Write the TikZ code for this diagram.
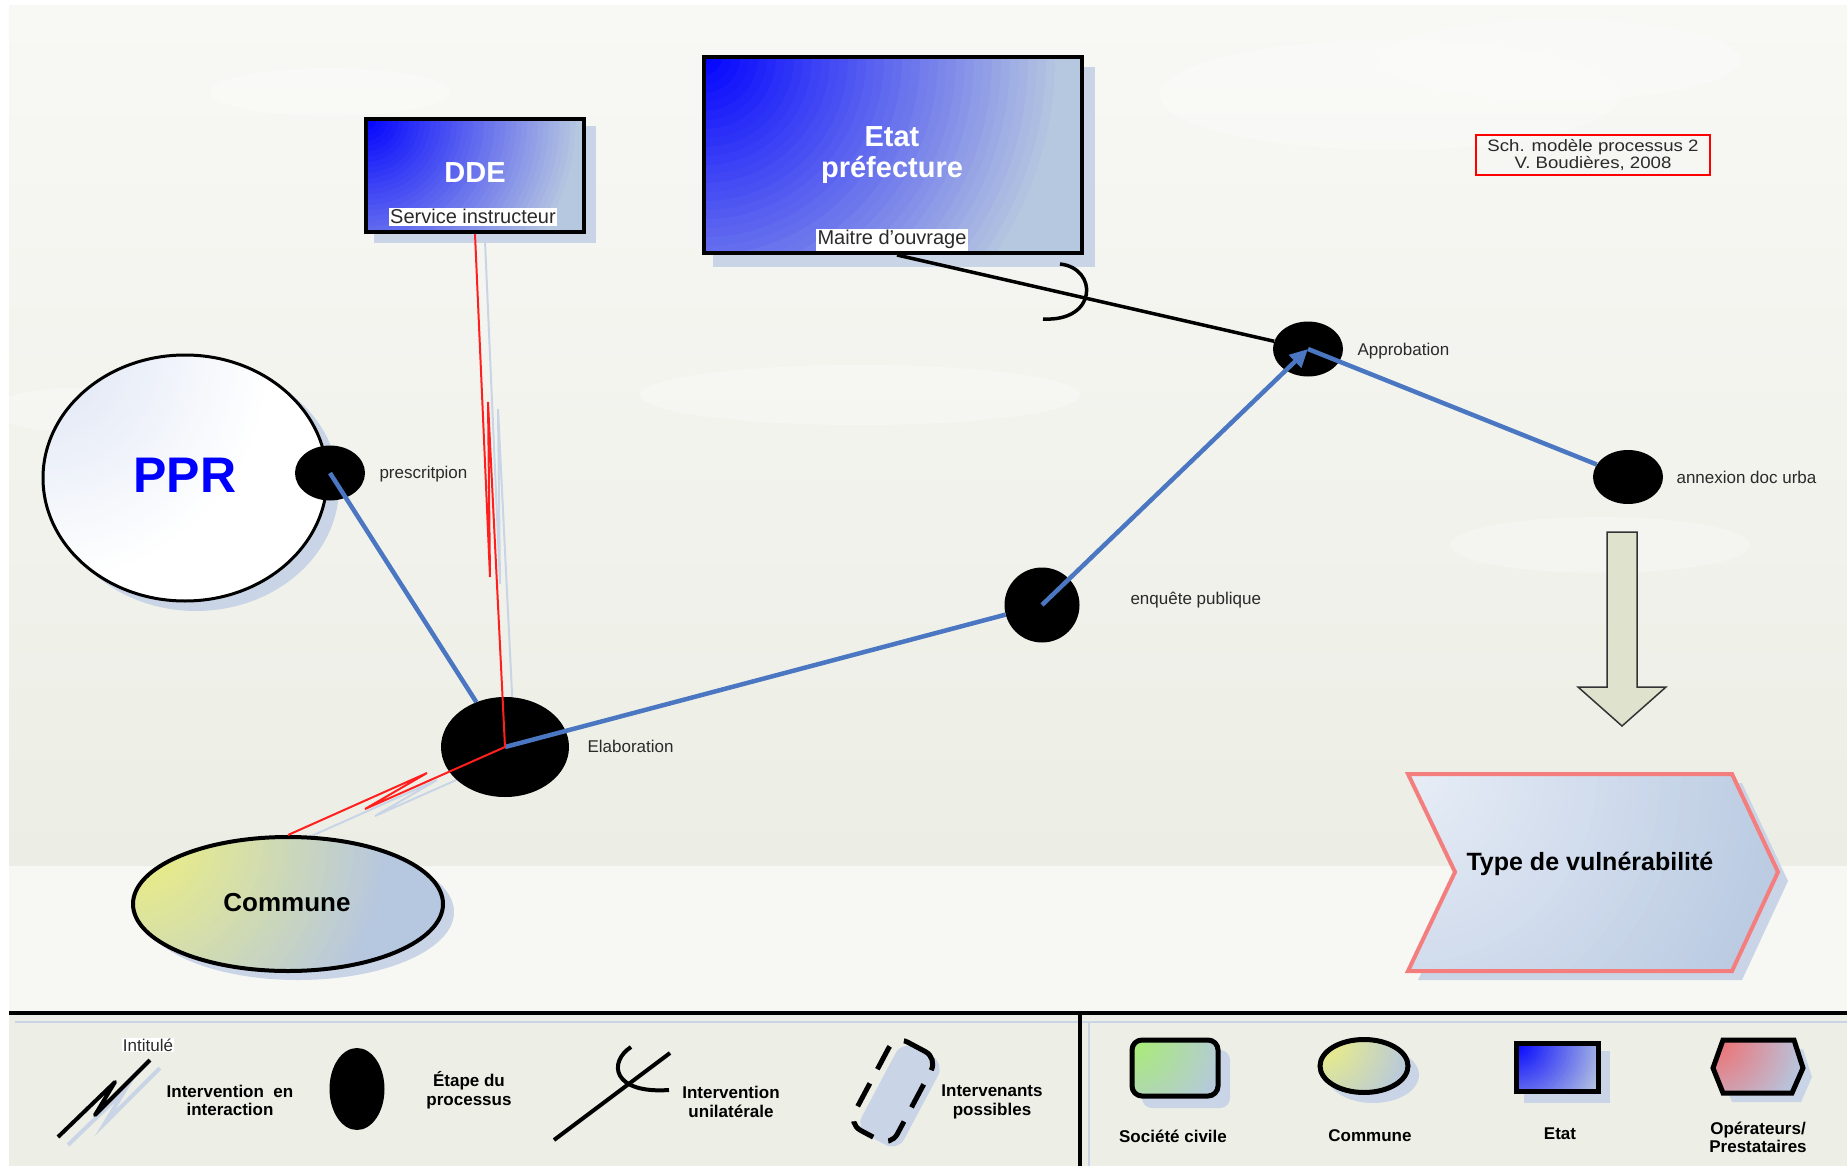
\documentclass[tikz,border=0pt]{standalone}
\usepackage{fontspec}
\setmainfont{Liberation Sans}
\usetikzlibrary{shapes.geometric,arrows.meta}
\definecolor{bgtop}{HTML}{F8F8F5}
\definecolor{bgmid}{HTML}{ECEEE5}
\definecolor{bgband}{HTML}{F7F7F4}
\definecolor{legbg}{HTML}{EDEFE6}
\definecolor{shad}{HTML}{C9D5E6}
\definecolor{lblue}{HTML}{B6C7E0}
\definecolor{linkblue}{HTML}{4A76C2}
\definecolor{redl}{HTML}{FF1F1F}
\definecolor{txt}{HTML}{2A2A2A}
\definecolor{arrowfill}{HTML}{DFE3CE}
\definecolor{chevred}{HTML}{F47E7E}
\definecolor{pprin}{HTML}{DCE4F4}
\definecolor{chevin}{HTML}{E8EEF7}
\definecolor{yellowc}{HTML}{F0F27A}
\definecolor{greenc}{HTML}{A8EE70}
\definecolor{pinkc}{HTML}{F46A6A}
\newcommand{\fsz}[1]{\fontsize{#1}{#1}\selectfont}
\pgfdeclarelayer{back}
\pgfsetlayers{back,main}
\tikzset{
  cgrad/.style n args={3}{fill=#2,path picture={
      \foreach \i in {40,39,...,1}{
        \pgfmathtruncatemacro{\pp}{100-2.5*\i}
        \pgfmathsetmacro{\rr}{(\i/40)*#3}
        \fill[#1!\pp!#2] (path picture bounding box.north west) circle[radius=\rr];
      }}},
  thickbox/.style={draw=black,line width=4pt,inner sep=0pt},
  stage/.style={ellipse,fill=black,inner sep=0pt},
  stagelbl/.style={anchor=base west,text=txt,font=\fsz{17}},
  whitelbl/.style={anchor=base,fill=white,inner sep=1.5pt,text=txt,font=\fsz{20}},
  boxtitle/.style={anchor=base,text=white,font=\bfseries\fsz{29}},
  bluelink/.style={draw=linkblue,line width=4.5pt},
  redlink/.style={draw=redl,line width=2pt,line join=miter},
  redshad/.style={draw=shad,line width=2pt},
  legtxt/.style={align=center,font=\bfseries\fontsize{17}{18.5}\selectfont,text=black},
  legshape/.style={line width=5pt,draw=black},
  cloud/.style={fill=white,opacity=0.28},
}
\begin{document}
\begin{tikzpicture}[x=1pt,y=-1pt]
\useasboundingbox (0,0) rectangle (1847,1166);

% ---------------- main nodes ----------------
\node[ellipse,draw=black,line width=3pt,minimum width=284pt,minimum height=246pt,
      cgrad={pprin}{white}{230}] (ppr) at (185,478) {};
\node[anchor=base,text=blue,font=\bfseries\fsz{50}] (pprtxt) at (185,492) {PPR};

\node[ellipse,draw=black,line width=4pt,minimum width=310pt,minimum height=134pt,
      cgrad={yellowc}{lblue}{260}] (commune) at (288,904) {};
\node[anchor=base,font=\bfseries\fsz{26}] (communetxt) at (287,911) {Commune};

\node[thickbox,minimum width=218pt,minimum height=113pt,cgrad={blue}{lblue}{215}] (dde) at (475,175.5) {};
\node[boxtitle] (ddetxt) at (475,183) {DDE};
\node[whitelbl] (ddelbl) at (473,224) {Service instructeur};

\node[thickbox,minimum width=378pt,minimum height=196pt,cgrad={blue}{lblue}{360}] (etat) at (893,155) {};
\node[boxtitle] (etattxt1) at (892,147) {Etat};
\node[boxtitle] (etattxt2) at (892,178) {préfecture};
\node[whitelbl] (etatlbl) at (892,245) {Maitre d’ouvrage};

\node[stage,minimum width=70pt,minimum height=55pt] (presc) at (330,473) {};
\node[stagelbl] (presclbl) at (376,478) {prescritpion};

\node[stage,minimum width=128pt,minimum height=100pt] (elab) at (505,747) {};
\node[stagelbl] (elablbl) at (584,752) {Elaboration};

\node[stage,minimum width=75pt,minimum height=75pt] (enq) at (1042,605) {};
\node[stagelbl] (enqlbl) at (1127,604) {enquête publique};

\node[stage,minimum width=70pt,minimum height=55pt] (appro) at (1308,349) {};
\node[stagelbl] (approlbl) at (1354,355) {Approbation};

\node[stage,minimum width=70pt,minimum height=54pt] (annex) at (1628,477) {};
\node[stagelbl] (annexlbl) at (1673,483) {annexion doc urba};

% title box
\node[draw=red,line width=2.5pt,minimum width=234pt,minimum height=40pt] (schbox) at (1593,155) {};
\node[anchor=base,text=txt,font=\fsz{16.5},xscale=1.13] (sch1) at (1593,151.5) {Sch. modèle processus 2};
\node[anchor=base,text=txt,font=\fsz{16.5},xscale=1.13] (sch2) at (1593,168.5) {V. Boudières, 2008};

% big arrow
\path[fill=arrowfill,draw=black!80,line width=1.5pt,line join=miter]
  (1607,532) -- (1637,532) -- (1637,687) -- (1666,687) -- (1622,726) -- (1578,687) -- (1607,687) -- cycle;

% chevron
\path[draw=chevred,line width=4pt,line join=miter,cgrad={chevin}{lblue}{420}]
  (1408,774) -- (1732,774) -- (1778,872) -- (1732,971) -- (1408,971) -- (1455,872) -- cycle;
\node[anchor=base west,font=\bfseries\fsz{25}] (vuln) at (1463,870) {Type de vulnérabilité};

% ---------------- connectors ----------------
\draw[bluelink] (presc.center) -- (elab);
\draw[bluelink] (elab.center) -- (enq);
\draw[bluelink,-{Triangle[length=18pt,width=17pt]}] (enq.center) -- (appro.center);
\draw[bluelink] (appro.center) -- (annex);

\draw[line width=3.5pt] ([xshift=4pt]etat.south) -- (appro);
\draw[line width=3.5pt] (1060,264) .. controls (1098,268) and (1098,322) .. (1043,319);

\draw[redlink] (dde.south) -- (490,577) -- (488,402) -- (elab.center);
\draw[redlink] (commune.north) -- (427,773) -- (365,809) -- (elab.center);

% ---------------- legend ----------------
\draw[line width=3.5pt] (9,1013) -- (1847,1013);
\draw[line width=3.5pt] (1080,1013) -- (1080,1166);

\node[fill=white,inner sep=1pt,text=txt,font=\fsz{17}] (intit) at (148,1045) {Intitulé};
\draw[line width=4pt,line join=round] (58,1137) -- (115,1082) -- (95,1115) -- (150,1060);
\node[legtxt] (lg1) at (230,1100.5) {Intervention\ \ en\\interaction};

\node[stage,minimum width=55pt,minimum height=82pt] (lgstage) at (357,1089) {};
\node[legtxt] (lg2) at (469,1090) {Étape du\\processus};

\draw[line width=4pt] (554,1140) -- (670,1053);
\draw[line width=4pt] (631,1047) .. controls (608,1062) and (612,1094) .. (669,1090);
\node[legtxt] (lg3) at (731,1102) {Intervention\\unilatérale};

\node[draw=black,line width=5pt,rounded corners=14pt,minimum width=48pt,minimum height=100pt,
      rotate=-28,dash pattern=on 26pt off 16pt,dash phase=2pt] (lgposs) at (893,1091) {};
\node[legtxt] (lg4) at (992,1102) {Intervenants\\possibles};

\node[legshape,rounded corners=10pt,minimum width=86pt,minimum height=56pt,inner sep=0pt,
      cgrad={greenc}{lblue}{100}] (lgsoc) at (1175,1068) {};
\node[legtxt] (lgsoctxt) at (1173,1136) {Société civile};

\node[legshape,ellipse,minimum width=88pt,minimum height=53pt,inner sep=0pt,
      cgrad={yellowc}{lblue}{95}] (lgcom) at (1364,1066) {};
\node[legtxt] (lgcomtxt) at (1370,1136) {Commune};

\node[legshape,minimum width=82pt,minimum height=48pt,inner sep=0pt,
      cgrad={blue}{lblue}{95}] (lgetat) at (1557,1067) {};
\node[legtxt] (lgetattxt) at (1560,1134) {Etat};

\path[legshape,line join=miter,cgrad={pinkc}{lblue}{95}]
  (1713,1068) -- (1723,1040) -- (1794,1040) -- (1803,1068) -- (1792,1093) -- (1723,1093) -- cycle;
\node[legtxt] (lgopstxt) at (1758,1137.5) {Opérateurs/\\Prestataires};

% ---------------- background layer ----------------
\begin{pgfonlayer}{back}
  \fill[white] (0,0) rectangle (1847,1166);
  \shade[top color=bgtop,bottom color=bgmid] (9,6) rectangle (1847,866);
  \fill[bgband] (9,866) rectangle (1847,1013);
  \fill[legbg] (9,1013) rectangle (1847,1166);
  % faint clouds
  \fill[cloud] (330,92) ellipse[x radius=120,y radius=24];
  \fill[cloud] (1390,95) ellipse[x radius=230,y radius=55];
  \fill[cloud] (1560,60) ellipse[x radius=180,y radius=40];
  \fill[cloud] (860,395) ellipse[x radius=220,y radius=30];
  \fill[cloud] (1600,545) ellipse[x radius=150,y radius=28];
  \fill[cloud] (80,410) ellipse[x radius=90,y radius=22];
  % legend line shadows
  \draw[shad,line width=2pt] (15,1022) -- (1847,1022);
  \draw[shad,line width=2pt] (1089,1022) -- (1089,1166);
  % shape shadows
  \fill[shad] (196,487) ellipse[x radius=143,y radius=124];
  \fill[shad] (298,912) ellipse[x radius=156,y radius=68];
  \fill[shad] (374,126) rectangle (596,243);
  \fill[shad] (713,67) rectangle (1095,267);
  \fill[shad] (1418,783) -- (1742,783) -- (1788,881) -- (1742,980) -- (1418,980) -- (1465,881) -- cycle;
  % red link shadows
  \draw[redshad] ([shift={(10,7)}]dde.south) -- (500,584) -- (498,409) -- ([shift={(10,7)}]elab.center);
  \draw[redshad] ([shift={(10,7)}]commune.north) -- (437,780) -- (375,816) -- ([shift={(10,7)}]elab.center);
  % legend shadows
  \draw[shad,line width=4pt] (68,1145) -- (125,1090) -- (105,1123) -- (160,1068);
  \fill[shad,rounded corners=14pt,rotate around={-28:(900,1096)}] (876,1046) rectangle (924,1146);
  \fill[shad,rounded corners=10pt] (1142,1050) rectangle (1230,1108);
  \fill[shad] (1373,1075) ellipse[x radius=46,y radius=28];
  \fill[shad] (1524,1051) rectangle (1610,1103);
  \fill[shad] (1722,1077) -- (1732,1049) -- (1803,1049) -- (1812,1077) -- (1801,1102) -- (1732,1102) -- cycle;
\end{pgfonlayer}
\end{tikzpicture}
\end{document}
